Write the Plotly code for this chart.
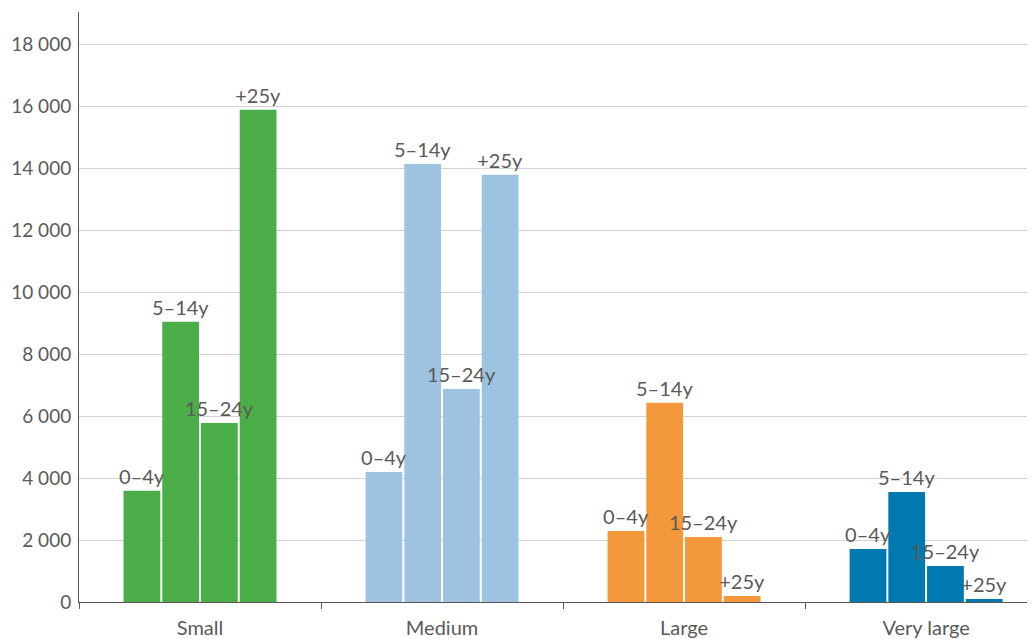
import plotly.graph_objects as go

categories = ["Small", "Medium", "Large", "Very large"]
age_groups = ["0–4y", "5–14y", "15–24y", "+25y"]
values_0_4 = [3590, 4200, 2290, 1710]
values_5_14 = [9050, 14150, 6440, 3550]
values_15_24 = [5780, 6880, 2100, 1160]
values_25 = [15900, 13800, 190, 95]
category_colors = ["#4cae48", "#9ec3e0", "#f3983b", "#0078b0"]

series = [values_0_4, values_5_14, values_15_24, values_25]
FONT = "Lato, Open Sans, sans-serif"

fig = go.Figure()
# coloured bars
for i, (name, vals) in enumerate(zip(age_groups, series)):
    fig.add_trace(go.Bar(
        x=categories, y=vals, name=name, offsetgroup=str(i),
        marker=dict(color=category_colors, line=dict(width=0)),
        hoverinfo="x+y+name",
    ))
# transparent overlays carrying the labels, drawn above every bar
for i, (name, vals) in enumerate(zip(age_groups, series)):
    fig.add_trace(go.Bar(
        x=categories, y=vals, name=name, offsetgroup=str(i),
        marker=dict(color="rgba(0,0,0,0)", line=dict(width=0)),
        text=[name] * len(categories),
        textposition="outside",
        textfont=dict(family=FONT, size=20, color="#5a5a5a"),
        constraintext="none",
        cliponaxis=False,
        hoverinfo="skip",
    ))

fig.update_layout(
    width=1027, height=631,
    margin=dict(l=71, r=0, t=4, b=37, autoexpand=False),
    barmode="group",
    bargap=0.36,
    bargroupgap=0.05,
    showlegend=False,
    plot_bgcolor="white",
    paper_bgcolor="white",
    separators=". ",
    font=dict(family=FONT, color="#5a5a5a"),
    xaxis=dict(
        range=[-0.5, 3.45],
        tickson="boundaries",
        ticks="outside", ticklen=6, tickcolor="#555", tickwidth=1,
        showline=True, linecolor="#555", linewidth=1,
        tickfont=dict(size=20, color="#5a5a5a"),
        ticklabelstandoff=8,
        showgrid=False,
        automargin=False,
    ),
    yaxis=dict(
        range=[0, 19060],
        tickvals=[0, 2000, 4000, 6000, 8000, 10000, 12000, 14000, 16000, 18000],
        tickformat=",d",
        showgrid=True, gridcolor="#d3d3d3", gridwidth=1,
        showline=True, linecolor="#555", linewidth=1,
        ticks="", ticklabelstandoff=3,
        tickfont=dict(size=19, color="#5a5a5a"),
        zeroline=False,
        automargin=False,
    ),
)

fig.write_html("out.html")
